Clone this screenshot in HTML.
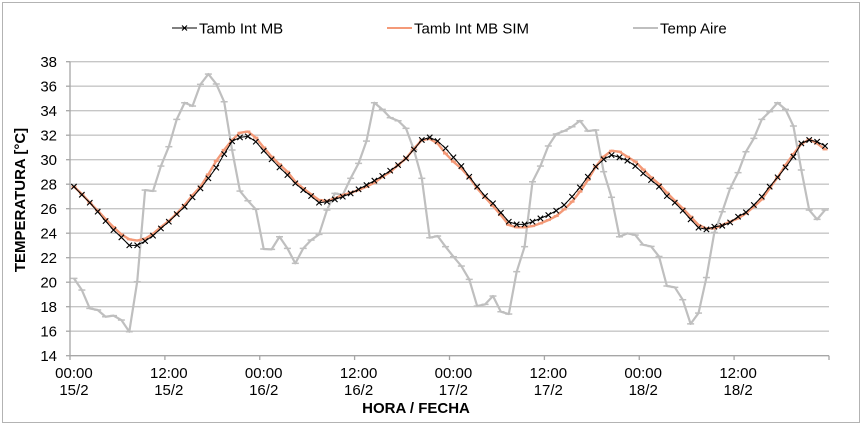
<!DOCTYPE html>
<html>
<head>
<meta charset="utf-8">
<style>
html,body{margin:0;padding:0;background:#fff;}
svg{display:block;}
text{font-family:"Liberation Sans",Arial,sans-serif;fill:#000;}
</style>
</head>
<body>
<svg width="862" height="426" viewBox="0 0 862 426" xmlns="http://www.w3.org/2000/svg">
<defs>
<marker id="mx" markerWidth="10" markerHeight="10" refX="5" refY="5" markerUnits="userSpaceOnUse" overflow="visible">
<path d="M2.3,2.3 L7.7,7.7 M7.7,2.3 L2.3,7.7" stroke="#000" stroke-width="1.1" fill="none"/>
</marker>
<marker id="mo" markerWidth="10" markerHeight="10" refX="5" refY="5" markerUnits="userSpaceOnUse" overflow="visible">
<path d="M2.5,5 L7.5,5" stroke="#f49a78" stroke-width="2" fill="none"/>
</marker>
<marker id="mg" markerWidth="10" markerHeight="10" refX="5" refY="5" markerUnits="userSpaceOnUse" overflow="visible">
<path d="M1.5,5 L8.5,5" stroke="#bfbfbf" stroke-width="1.5" fill="none"/>
</marker>
</defs>

<rect x="2.5" y="2.5" width="857" height="420" fill="#fff" stroke="#b3b3b3" stroke-width="1"/>

<!-- gridlines -->
<g stroke="#c6c6c6" stroke-width="1.3">
<line x1="70" y1="61.7" x2="829" y2="61.7"/>
<line x1="70" y1="86.2" x2="829" y2="86.2"/>
<line x1="70" y1="110.7" x2="829" y2="110.7"/>
<line x1="70" y1="135.2" x2="829" y2="135.2"/>
<line x1="70" y1="159.7" x2="829" y2="159.7"/>
<line x1="70" y1="184.2" x2="829" y2="184.2"/>
<line x1="70" y1="208.7" x2="829" y2="208.7"/>
<line x1="70" y1="233.2" x2="829" y2="233.2"/>
<line x1="70" y1="257.7" x2="829" y2="257.7"/>
<line x1="70" y1="282.2" x2="829" y2="282.2"/>
<line x1="70" y1="306.7" x2="829" y2="306.7"/>
<line x1="70" y1="331.2" x2="829" y2="331.2"/>
</g>

<!-- axes -->
<g stroke="#a6a6a6" stroke-width="1.3">
<line x1="70" y1="61.7" x2="70" y2="355.7"/>
<line x1="70" y1="355.7" x2="829" y2="355.7"/>
<line x1="66" y1="61.7" x2="70" y2="61.7"/>
<line x1="66" y1="86.2" x2="70" y2="86.2"/>
<line x1="66" y1="110.7" x2="70" y2="110.7"/>
<line x1="66" y1="135.2" x2="70" y2="135.2"/>
<line x1="66" y1="159.7" x2="70" y2="159.7"/>
<line x1="66" y1="184.2" x2="70" y2="184.2"/>
<line x1="66" y1="208.7" x2="70" y2="208.7"/>
<line x1="66" y1="233.2" x2="70" y2="233.2"/>
<line x1="66" y1="257.7" x2="70" y2="257.7"/>
<line x1="66" y1="282.2" x2="70" y2="282.2"/>
<line x1="66" y1="306.7" x2="70" y2="306.7"/>
<line x1="66" y1="331.2" x2="70" y2="331.2"/>
<line x1="66" y1="355.7" x2="70" y2="355.7"/>
<line x1="70" y1="355.7" x2="70" y2="360"/>
<line x1="164.9" y1="355.7" x2="164.9" y2="360"/>
<line x1="259.75" y1="355.7" x2="259.75" y2="360"/>
<line x1="354.6" y1="355.7" x2="354.6" y2="360"/>
<line x1="449.5" y1="355.7" x2="449.5" y2="360"/>
<line x1="544.4" y1="355.7" x2="544.4" y2="360"/>
<line x1="639.25" y1="355.7" x2="639.25" y2="360"/>
<line x1="734.1" y1="355.7" x2="734.1" y2="360"/>
<line x1="829" y1="355.7" x2="829" y2="360"/>
</g>

<!-- y labels -->
<g font-size="15" text-anchor="end">
<text x="57" y="67">38</text>
<text x="57" y="91.5">36</text>
<text x="57" y="116">34</text>
<text x="57" y="140.5">32</text>
<text x="57" y="165">30</text>
<text x="57" y="189.5">28</text>
<text x="57" y="214">26</text>
<text x="57" y="238.5">24</text>
<text x="57" y="263">22</text>
<text x="57" y="287.5">20</text>
<text x="57" y="312">18</text>
<text x="57" y="336.5">16</text>
<text x="57" y="361">14</text>
</g>

<!-- x labels -->
<g font-size="15" text-anchor="middle">
<text x="73.95" y="378">00:00</text><text x="73.95" y="395">15/2</text>
<text x="168.8" y="378">12:00</text><text x="168.8" y="395">15/2</text>
<text x="263.7" y="378">00:00</text><text x="263.7" y="395">16/2</text>
<text x="358.6" y="378">12:00</text><text x="358.6" y="395">16/2</text>
<text x="453.4" y="378">00:00</text><text x="453.4" y="395">17/2</text>
<text x="548.3" y="378">12:00</text><text x="548.3" y="395">17/2</text>
<text x="643.2" y="378">00:00</text><text x="643.2" y="395">18/2</text>
<text x="738.1" y="378">12:00</text><text x="738.1" y="395">18/2</text>
</g>

<text x="416" y="413" font-size="15" font-weight="bold" text-anchor="middle">HORA / FECHA</text>
<text transform="translate(25,200) rotate(-90)" font-size="15" font-weight="bold" text-anchor="middle">TEMPERATURA [°C]</text>

<!-- legend -->
<line x1="172" y1="28" x2="197" y2="28" stroke="#000" stroke-width="1"/>
<path d="M182,25.5 L187,30.5 M187,25.5 L182,30.5" stroke="#000" stroke-width="1.1"/>
<text x="199" y="33.5" font-size="15">Tamb Int MB</text>
<line x1="387" y1="28" x2="412" y2="28" stroke="#f49a78" stroke-width="2"/>
<text x="414" y="33.5" font-size="15">Tamb Int MB SIM</text>
<line x1="633" y1="28" x2="658" y2="28" stroke="#bfbfbf" stroke-width="2"/>
<text x="660" y="33.5" font-size="15">Temp Aire</text>

<!-- Temp Aire -->
<polyline fill="none" stroke="#bfbfbf" stroke-width="2.2" stroke-linejoin="round" marker-start="url(#mg)" marker-mid="url(#mg)" marker-end="url(#mg)" points="73.95,278.4 81.86,290.04 89.77,308.41 97.67,310.01 105.58,316.74 113.48,315.64 121.39,320.05 129.30,331.69 137.20,281.71 145.11,190.08 153.01,191.06 160.92,166.07 168.83,146.71 176.73,119.4 184.64,102.74 192.54,106.04 200.45,84.36 208.36,74.07 216.26,83.99 224.17,101.76 232.07,150.02 239.98,191.06 247.89,200.74 255.79,209.31 263.70,249.0 271.60,249.37 279.51,236.75 287.42,248.39 295.32,263.33 303.23,248.39 311.13,240.06 319.04,234.42 326.95,210.05 334.85,193.39 342.76,194.98 350.66,178.32 358.57,163.37 366.48,141.08 374.38,102.74 382.29,109.35 390.19,117.68 398.10,120.74 406.01,128.34 413.91,149.9 421.82,178.32 429.72,237.73 437.63,236.02 445.54,246.67 453.44,256.72 461.35,266.03 469.25,279.38 477.16,306.09 485.07,304.37 492.97,296.04 500.88,311.72 508.78,314.05 516.69,271.66 524.60,246.67 532.50,181.75 540.41,166.07 548.31,145.98 556.22,133.97 564.13,131.03 572.03,126.75 579.94,120.74 587.84,131.03 595.75,130.05 603.66,171.7 611.56,197.31 619.47,236.75 627.37,233.32 635.28,235.04 643.19,244.84 651.09,246.43 659.00,256.47 666.90,286.0 674.81,287.34 682.72,299.72 690.62,323.85 698.53,313.07 706.43,277.54 714.34,232.46 722.25,211.76 730.15,188.36 738.06,172.68 745.96,151.74 753.87,138.38 761.78,119.4 769.68,111.68 777.59,102.74 785.49,109.35 793.40,126.01 801.31,169.99 809.21,210.05 817.12,219.36 825.02,210.05"/>

<!-- Tamb Int MB SIM -->
<polyline fill="none" stroke="#f49a78" stroke-width="2.4" stroke-linejoin="round" marker-start="url(#mo)" marker-mid="url(#mo)" marker-end="url(#mo)" points="73.95,186.65 81.86,194.0 89.77,202.57 97.67,210.54 105.58,219.11 113.48,227.07 121.39,234.42 129.30,239.32 137.20,240.55 145.11,238.71 153.01,233.81 160.92,227.07 168.83,220.95 176.73,213.6 184.64,205.02 192.54,195.22 200.45,186.65 208.36,174.4 216.26,160.92 224.17,149.9 232.07,140.1 239.98,132.75 247.89,131.52 255.79,137.65 263.70,147.45 271.60,156.76 279.51,164.35 287.42,171.7 295.32,181.75 303.23,188.36 311.13,194.37 319.04,200.0 326.95,200.98 334.85,198.41 342.76,194.98 350.66,192.77 358.57,190.08 366.48,186.65 374.38,182.73 382.29,176.85 390.19,171.95 398.10,165.09 406.01,158.47 413.91,148.67 421.82,140.1 429.72,138.87 437.63,143.41 445.54,153.57 453.44,161.66 461.35,168.4 469.25,177.34 477.16,188.36 485.07,197.31 492.97,206.0 500.88,215.07 508.78,224.99 516.69,227.32 524.60,227.32 532.50,226.1 540.41,223.4 548.31,220.09 556.22,216.05 564.13,209.43 572.03,201.72 579.94,191.67 587.84,180.03 595.75,166.68 603.66,156.76 611.56,150.76 619.47,151.74 627.37,156.76 635.28,161.66 643.19,169.5 651.09,177.34 659.00,184.08 666.90,192.65 674.81,200.74 682.72,208.33 690.62,216.66 698.53,224.99 706.43,228.42 714.34,228.42 722.25,224.99 730.15,221.68 738.06,218.38 745.96,213.35 753.87,206.74 761.78,199.39 769.68,188.36 777.59,177.34 785.49,165.09 793.40,154.06 801.31,144.02 809.21,139.36 817.12,143.41 825.02,149.41"/>

<!-- Tamb Int MB -->
<polyline fill="none" stroke="#000" stroke-width="1" stroke-linejoin="round" marker-start="url(#mx)" marker-mid="url(#mx)" marker-end="url(#mx)" points="73.95,186.65 81.86,194.73 89.77,202.70 97.67,211.64 105.58,221.07 113.48,230.01 121.39,237.36 129.30,245.33 137.20,245.33 145.11,241.04 153.01,235.65 160.92,228.42 168.83,221.68 176.73,214.09 184.64,206.74 192.54,197.31 200.45,188.36 208.36,178.32 216.26,167.66 224.17,154.06 232.07,141.32 239.98,137.40 247.89,136.42 255.79,141.69 263.70,150.76 271.60,159.33 279.51,167.42 287.42,175.01 295.32,183.34 303.23,190.08 311.13,196.08 319.04,202.70 326.95,201.72 334.85,199.39 342.76,196.69 350.66,193.39 358.57,189.34 366.48,185.06 374.38,180.65 382.29,175.99 390.19,170.72 398.10,165.09 406.01,158.35 413.91,149.41 421.82,139.98 429.72,137.40 437.63,141.08 445.54,148.31 453.44,157.37 461.35,166.07 469.25,176.73 477.16,186.65 485.07,196.08 492.97,203.31 500.88,212.74 508.78,221.68 516.69,224.38 524.60,224.38 532.50,221.68 540.41,218.38 548.31,215.07 556.22,210.66 564.13,205.02 572.03,196.69 579.94,187.38 587.84,176.73 595.75,166.68 603.66,159.33 611.56,155.04 619.47,157.37 627.37,160.68 635.28,166.07 643.19,173.42 651.09,180.03 659.00,186.65 666.90,196.08 674.81,202.70 682.72,210.66 690.62,219.36 698.53,227.69 706.43,229.40 714.34,226.71 722.25,225.73 730.15,222.42 738.06,216.66 745.96,212.37 753.87,205.02 761.78,196.69 769.68,186.65 777.59,177.34 785.49,167.42 793.40,156.76 801.31,143.41 809.21,139.98 817.12,141.69 825.02,145.98"/>
</svg>
</body>
</html>
